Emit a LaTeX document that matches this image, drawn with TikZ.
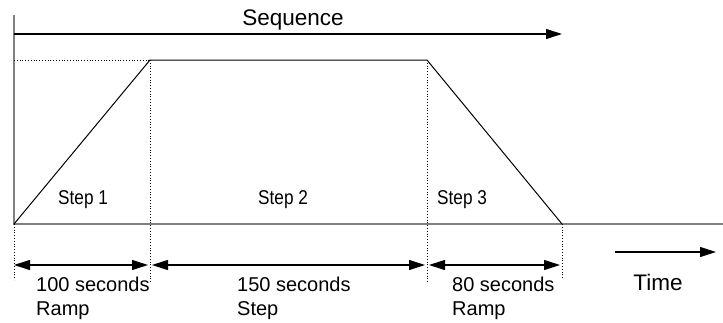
\documentclass[tikz,border=0pt]{standalone}
\usepackage{fontspec}
\setmainfont{Liberation Sans}
\newfontfamily\narrowfont[FakeStretch=0.86]{Liberation Sans}
\usetikzlibrary{arrows.meta}
\begin{document}
\begin{tikzpicture}[x=1pt,y=-1pt,
  axisline/.style={gray,line width=1.3pt},
  profile/.style={line width=1pt},
  guide/.style={dotted,line width=0.8pt},
  dimarrow/.style={{Triangle[length=16pt,width=10pt]}-{Triangle[length=16pt,width=10pt]},line width=1.1pt},
  lbl/.style={inner sep=0pt,anchor=base west,font=\fontsize{20}{24}\selectfont},
  steplbl/.style={inner sep=0pt,anchor=base west,font=\narrowfont\fontsize{20}{24}\selectfont},
  biglbl/.style={inner sep=0pt,anchor=base,font=\fontsize{22.5}{27}\selectfont}]
\useasboundingbox (0,0) rectangle (723,322);

% profile corners
\coordinate (o) at (14,224);
\coordinate (top) at (14,15);
\coordinate (end) at (723,224);
\coordinate (lvl) at (14,60);
\coordinate (a) at (150,60);
\coordinate (b) at (427,60);
\coordinate (c) at (562,224);

% axes
\draw[axisline] (top) -- (o) -- (end);

% sequence
\coordinate (s0) at (14,34);
\coordinate (s1) at (562,34);
\draw[-{Triangle[length=16pt,width=10pt]},line width=1.1pt] (s0) -- (s1);
\node[biglbl] (seq) at (293,25) {Sequence};

% ramp / step / ramp
\draw[profile] (o) -- (a) -- (b) -- (c);
\draw[guide] (lvl) -- (a);

% guides down
\coordinate (o') at (14,280);
\coordinate (a') at (150,282);
\coordinate (b') at (427,282);
\coordinate (c') at (562,278);
\draw[guide] (o) -- (o');
\draw[guide] (a) -- (a');
\draw[guide] (b) -- (b');
\draw[guide] (c) -- (c');

% durations
\coordinate (d0) at (14,265);
\coordinate (d1) at (150,265);
\coordinate (d2) at (427,265);
\coordinate (d3) at (562,265);
\draw[dimarrow,shorten >=2pt] (d0) -- (d1);
\draw[dimarrow,shorten <=2pt,shorten >=2pt] (d1) -- (d2);
\draw[dimarrow,shorten <=2pt,shorten >=2pt] (d2) -- (d3);

\node[steplbl] (st1) at (58,204) {Step 1};
\node[steplbl] (st2) at (258,204) {Step 2};
\node[steplbl] (st3) at (437,204) {Step 3};

\node[lbl] (t1) at (36,291) {100 seconds};
\node[lbl] (r1) at (36,315) {Ramp};
\node[lbl] (t2) at (237,291) {150 seconds};
\node[lbl] (r2) at (237,315) {Step};
\node[lbl] (t3) at (452,291) {80 seconds};
\node[lbl] (r3) at (452,315) {Ramp};

% time
\coordinate (tm0) at (615,252);
\coordinate (tm1) at (716,252);
\draw[-{Triangle[length=16pt,width=10pt]},line width=1.1pt] (tm0) -- (tm1);
\node[biglbl] (time) at (658,290) {Time};

\end{tikzpicture}
\end{document}
